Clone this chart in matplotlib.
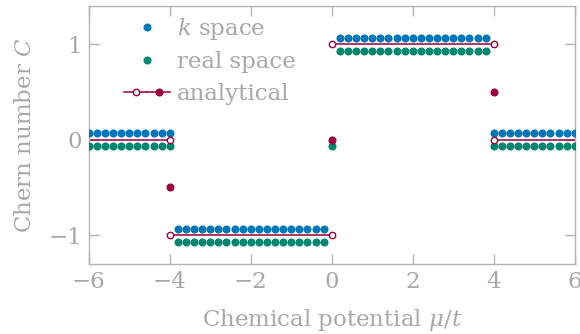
import matplotlib
matplotlib.use("Agg")
import matplotlib.pyplot as plt
from matplotlib.lines import Line2D
from matplotlib.legend_handler import HandlerTuple

# chemical potential grid (mu / t)
mu_k = [-6.0, -5.8, -5.6, -5.4, -5.2, -5.0, -4.8, -4.6, -4.4, -4.2, -4.0,
        -3.8, -3.6, -3.4, -3.2, -3.0, -2.8, -2.6, -2.4, -2.2, -2.0,
        -1.8, -1.6, -1.4, -1.2, -1.0, -0.8, -0.6, -0.4, -0.2,
        0.2, 0.4, 0.6, 0.8, 1.0, 1.2, 1.4, 1.6, 1.8, 2.0,
        2.2, 2.4, 2.6, 2.8, 3.0, 3.2, 3.4, 3.6, 3.8,
        4.0, 4.2, 4.4, 4.6, 4.8, 5.0, 5.2, 5.4, 5.6, 5.8, 6.0]
chern_k = [0, 0, 0, 0, 0, 0, 0, 0, 0, 0, 0,
           -1, -1, -1, -1, -1, -1, -1, -1, -1, -1,
           -1, -1, -1, -1, -1, -1, -1, -1, -1,
           1, 1, 1, 1, 1, 1, 1, 1, 1, 1,
           1, 1, 1, 1, 1, 1, 1, 1, 1,
           0, 0, 0, 0, 0, 0, 0, 0, 0, 0, 0]

mu_real = [-6.0, -5.8, -5.6, -5.4, -5.2, -5.0, -4.8, -4.6, -4.4, -4.2, -4.0,
           -3.8, -3.6, -3.4, -3.2, -3.0, -2.8, -2.6, -2.4, -2.2, -2.0,
           -1.8, -1.6, -1.4, -1.2, -1.0, -0.8, -0.6, -0.4, -0.2, 0.0,
           0.2, 0.4, 0.6, 0.8, 1.0, 1.2, 1.4, 1.6, 1.8, 2.0,
           2.2, 2.4, 2.6, 2.8, 3.0, 3.2, 3.4, 3.6, 3.8,
           4.0, 4.2, 4.4, 4.6, 4.8, 5.0, 5.2, 5.4, 5.6, 5.8, 6.0]
chern_real = [0, 0, 0, 0, 0, 0, 0, 0, 0, 0, 0,
              -1, -1, -1, -1, -1, -1, -1, -1, -1, -1,
              -1, -1, -1, -1, -1, -1, -1, -1, -1, 0,
              1, 1, 1, 1, 1, 1, 1, 1, 1, 1,
              1, 1, 1, 1, 1, 1, 1, 1, 1,
              0, 0, 0, 0, 0, 0, 0, 0, 0, 0, 0]

# analytical result: plateaus and values at the transitions
plateau_start = [-6, -4, 0, 4]
plateau_end = [-4, 0, 4, 6]
plateau_value = [0, -1, 1, 0]
transition_mu = [-4, 0, 4]
transition_value = [-0.5, 0, 0.5]

BLUE = "#0077BB"
GREEN = "#00876F"
RED = "#99003D"
GREY = "#b3b3b3"
TEXT = "#a8a8a8"
SHIFT = 0.07  # small vertical shift so both numeric sets stay visible

plt.rcParams["font.family"] = "DejaVu Serif"
plt.rcParams["mathtext.fontset"] = "dejavuserif"
plt.rcParams["font.size"] = 16.5

fig = plt.figure(figsize=(5.8, 3.34), dpi=100)
ax = fig.add_axes([0.153, 0.21, 0.838, 0.772])

for x0, x1, c in zip(plateau_start, plateau_end, plateau_value):
    ax.plot([x0, x1], [c, c], color=RED, lw=1.1, zorder=2)
    for xe in (x0, x1):
        if abs(xe) < 6:
            ax.plot(xe, c, "o", ms=4.6, mfc="white", mec=RED, mew=1.0, zorder=4)
ax.plot(transition_mu, transition_value, "o", ls="none", ms=4.8, color=RED, zorder=4)

ax.plot(mu_k, [c + SHIFT for c in chern_k], "o", ls="none", ms=4.8, color=BLUE, zorder=3)
ax.plot(mu_real, [c - SHIFT for c in chern_real], "o", ls="none", ms=4.8, color=GREEN, zorder=3)

ax.set_xlim(-6, 6)
ax.set_ylim(-1.3, 1.4)
ax.set_xticks([-6, -4, -2, 0, 2, 4, 6])
ax.set_yticks([-1, 0, 1])
ax.tick_params(direction="in", length=7.5, width=1.0, color=GREY, labelcolor=TEXT,
               top=True, right=True, pad=5)
for sp in ax.spines.values():
    sp.set_color(GREY)
    sp.set_linewidth(1.0)

ax.set_xlabel(r"Chemical potential $\mu/t$", color=TEXT, labelpad=10)
ax.set_ylabel(r"Chern number $C$", color=TEXT, labelpad=9)

h_k = Line2D([], [], ls="none", marker="o", ms=4.8, color=BLUE)
h_real = Line2D([], [], ls="none", marker="o", ms=4.8, color=GREEN)
h_open = Line2D([], [], color=RED, lw=1.1, marker="o", ms=4.6, mfc="white", mec=RED, mew=1.0)
h_fill = Line2D([], [], color=RED, lw=1.1, marker="o", ms=4.8)
leg = ax.legend([h_k, h_real, (h_open, h_fill)],
                [r"$k$ space", "real space", "analytical"],
                handler_map={tuple: HandlerTuple(ndivide=None, pad=0)},
                loc="upper left", bbox_to_anchor=(0.054, 0.998), frameon=False,
                handlelength=2.0, handletextpad=0.3, labelspacing=0.42,
                numpoints=1, borderaxespad=0)
for t in leg.get_texts():
    t.set_color(TEXT)

fig.savefig("out.png", dpi=100)
